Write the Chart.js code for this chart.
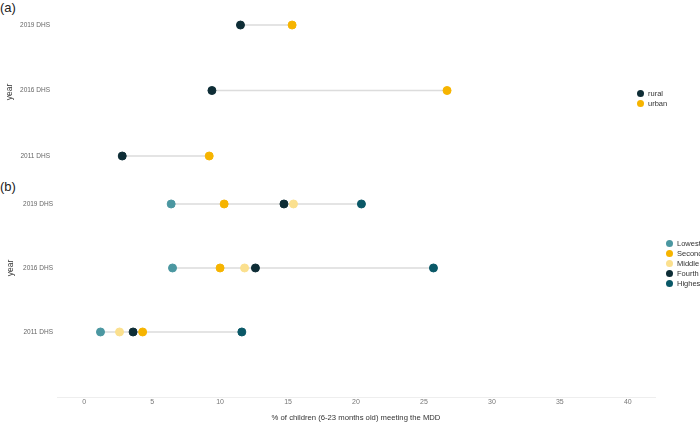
<!DOCTYPE html>
<html>
<head>
<meta charset="utf-8">
<script src="https://cdn.jsdelivr.net/npm/chart.js@4"></script>
<style>
  body { margin: 0; background: #fff; font-family: 'Liberation Sans', Arial, sans-serif; }
  #wrap { position: relative; width: 700px; height: 426px; overflow: hidden; }
  .cv { position: absolute; left: 0; }
  .tag { position: absolute; left: 0; font-size: 13px; color: #222; }
  .ytitle { position: absolute; width: 40px; height: 10px; line-height: 10px; text-align: center;
            font-size: 8.5px; color: #333; transform: translate(-50%, -50%) rotate(-90deg); }
  .legend { position: absolute; font-size: 7.5px; color: #333; }
  .legend div { height: 10px; line-height: 10px; white-space: nowrap; }
  .legend span { display: inline-block; width: 7px; height: 7px; border-radius: 50%; vertical-align: -1px; margin-right: 4px; }
</style>
</head>
<body>
<div id="wrap">
  <div class="tag" style="top:0px;">(a)</div>
  <div class="tag" style="top:179px;">(b)</div>
  <canvas id="chartA" class="cv" style="top:0px;" width="700" height="190"></canvas>
  <canvas id="chartB" class="cv" style="top:170px;" width="700" height="256"></canvas>
  <div class="ytitle" style="left:9px; top:92px;">year</div>
  <div class="ytitle" style="left:10px; top:268px;">year</div>
  <div id="legendA" class="legend" style="left:637px; top:89px;"></div>
  <div id="legendB" class="legend" style="left:666px; top:239px;"></div>
</div>
<script>
// rows, top to bottom
const years = ['2019 DHS', '2016 DHS', '2011 DHS'];
const xTicks = [0, 5, 10, 15, 20, 25, 30, 35, 40];

// (a) residence
const residence = ['rural', 'urban'];
const rural = [11.5, 9.4, 2.8];
const urban = [15.3, 26.7, 9.2];

// (b) wealth quintile
const quintiles = ['Lowest', 'Second', 'Middle', 'Fourth', 'Highest'];
const lowest = [6.4, 6.5, 1.2];
const second = [10.3, 10.0, 4.3];
const middle = [15.4, 11.8, 2.6];
const fourth = [14.7, 12.6, 3.6];
const highest = [20.4, 25.7, 11.6];

const colorsA = ['#0e2d36', '#f6b400'];
const colorsB = ['#4b97a1', '#f6b400', '#fbe08e', '#0e2d36', '#0a5867'];

const FONT = "'Liberation Sans', Arial, sans-serif";

function rangeLine(seriesList) {
    // grey segment from lowest to highest value in each row
    var pts = [];
    years.forEach(function(y, i) {
        var vals = seriesList.map(function(s) { return s[i]; });
        pts.push({ x: Math.min.apply(null, vals), y: i });
        pts.push({ x: Math.max.apply(null, vals), y: i });
        pts.push({ x: null, y: i });
    });
    return {
        type: 'line', data: pts, borderColor: '#dcdcdc', borderWidth: 1.5,
        pointRadius: 0, spanGaps: false, order: 10
    };
}

function dotSet(name, values, color) {
    return {
        type: 'scatter', label: name,
        data: values.map(function(v, i) { return { x: v, y: i }; }),
        backgroundColor: color, borderColor: color,
        pointRadius: 4, pointHoverRadius: 4, order: 1
    };
}

function makeChart(id, datasets, yMin, yMax, showX, labelPad) {
    new Chart(document.getElementById(id), {
        type: 'scatter',
        data: { datasets: datasets },
        options: {
            responsive: false,
            animation: false,
            layout: { autoPadding: false, padding: { left: 0, right: 45, top: 0, bottom: 0 } },
            plugins: { legend: { display: false }, tooltip: { enabled: false } },
            scales: {
                x: {
                    type: 'linear', min: -2, max: 42, display: showX,
                    afterBuildTicks: function(s) { s.ticks = xTicks.map(function(v) { return { value: v }; }); },
                    afterFit: function(s) { s.height = showX ? 29 : 0; s.paddingLeft = 0; s.paddingRight = 0; },
                    grid: { display: false, drawTicks: false },
                    border: { display: true, color: '#eeeeee', width: 1 },
                    ticks: { padding: 1, color: '#777', font: { family: FONT, size: 7 } },
                    title: {
                        display: true, text: '% of children (6-23 months old) meeting the MDD',
                        color: '#333', font: { family: FONT, size: 7.7 }, padding: { top: 0, bottom: 3 }
                    }
                },
                y: {
                    type: 'linear', reverse: true, min: yMin, max: yMax,
                    afterBuildTicks: function(s) { s.ticks = years.map(function(_, i) { return { value: i }; }); },
                    afterFit: function(s) { s.width = 57; s.paddingTop = 0; s.paddingBottom = 0; },
                    grid: { display: false, drawTicks: false },
                    border: { display: false },
                    ticks: {
                        padding: labelPad, color: '#666', font: { family: FONT, size: 6.5 },
                        callback: function(v) { return years[v]; }
                    },
                    title: { display: false }
                }
            }
        }
    });
}

function makeLegend(id, names, colors) {
    var el = document.getElementById(id);
    names.forEach(function(n, i) {
        var row = document.createElement('div');
        row.innerHTML = '<span style="background:' + colors[i] + '"></span>' + n;
        el.appendChild(row);
    });
}

var seriesA = [rural, urban];
var dsA = [rangeLine(seriesA)];
seriesA.forEach(function(s, i) { dsA.push(dotSet(residence[i], s, colorsA[i])); });
makeChart('chartA', dsA, -0.382, 2.519, false, 7);

var seriesB = [lowest, second, middle, fourth, highest];
var dsB = [rangeLine(seriesB)];
seriesB.forEach(function(s, i) { dsB.push(dotSet(quintiles[i], s, colorsB[i])); });
makeChart('chartB', dsB, -0.531, 3.016, true, 4);

makeLegend('legendA', residence, colorsA);
makeLegend('legendB', quintiles, colorsB);
</script>
</body>
</html>
